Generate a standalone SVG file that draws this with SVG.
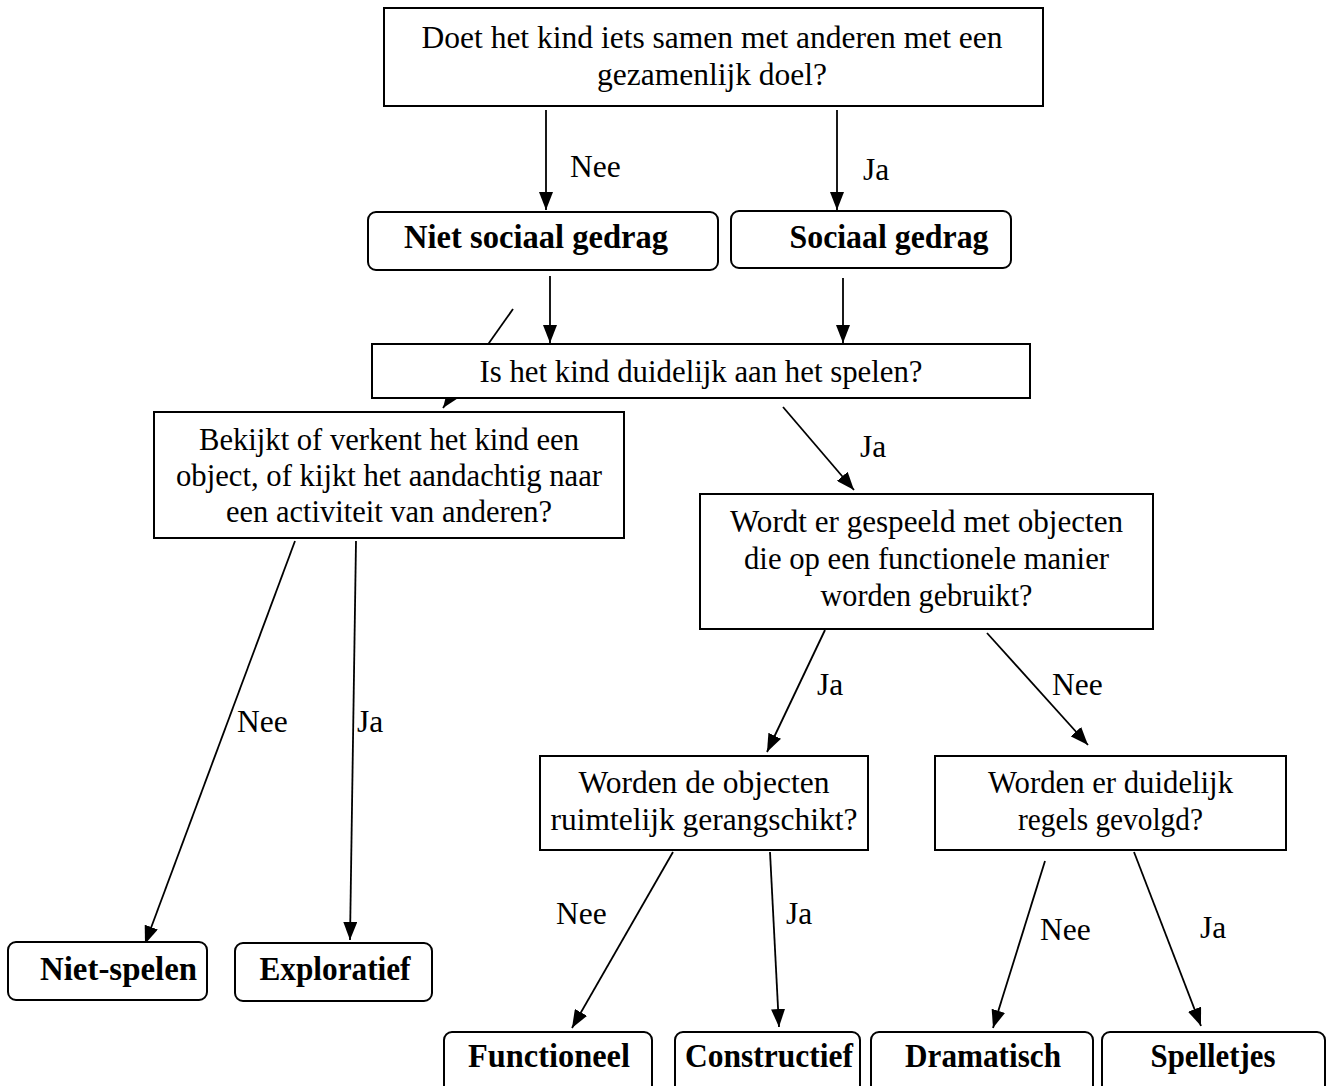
<svg xmlns="http://www.w3.org/2000/svg" width="1329" height="1086" viewBox="0 0 1329 1086">
<defs>
<marker id="ah" markerUnits="userSpaceOnUse" markerWidth="18" markerHeight="14" refX="18" refY="7" orient="auto">
<path d="M0,0 L18,7 L0,14 z" fill="#000"/>
</marker>
<style>
.box{fill:#fff;stroke:#000;stroke-width:2}
.t{font-family:"Liberation Serif","Times New Roman",serif;font-size:31.5px;fill:#000;text-anchor:middle}
.b{font-family:"Liberation Serif","Times New Roman",serif;font-size:33px;font-weight:bold;fill:#000;text-anchor:middle}
.lbl{font-family:"Liberation Serif","Times New Roman",serif;font-size:31.5px;fill:#000}
.c{stroke:#000;stroke-width:1.8;fill:none;marker-end:url(#ah)}
</style>
</defs>
<rect width="1329" height="1086" fill="#fff"/>
<g id="connectors">
<line class="c" x1="546" y1="110" x2="546" y2="210"/>
<line class="c" x1="837" y1="110" x2="837" y2="210"/>
<line class="c" x1="550" y1="276" x2="550" y2="343"/>
<line class="c" x1="843" y1="278" x2="843" y2="343"/>
<line class="c" x1="513" y1="309" x2="443" y2="408"/>
<line class="c" x1="783" y1="407" x2="854" y2="490"/>
<line class="c" x1="295" y1="541" x2="145" y2="944"/>
<line class="c" x1="356" y1="541" x2="350" y2="940"/>
<line class="c" x1="825" y1="630" x2="767" y2="752"/>
<line class="c" x1="987" y1="633" x2="1088" y2="745"/>
<line class="c" x1="673" y1="852" x2="572" y2="1028"/>
<line class="c" x1="770" y1="852" x2="779" y2="1027"/>
<line class="c" x1="1045" y1="861" x2="993" y2="1028"/>
<line class="c" x1="1134" y1="852" x2="1201" y2="1026"/>
<text class="lbl" x="570" y="177">Nee</text>
<text class="lbl" x="863" y="180">Ja</text>
<text class="lbl" x="860" y="457">Ja</text>
<text class="lbl" x="237" y="732">Nee</text>
<text class="lbl" x="357" y="732">Ja</text>
<text class="lbl" x="817" y="695">Ja</text>
<text class="lbl" x="1052" y="695">Nee</text>
<text class="lbl" x="556" y="924">Nee</text>
<text class="lbl" x="786" y="924">Ja</text>
<text class="lbl" x="1040" y="940">Nee</text>
<text class="lbl" x="1200" y="938">Ja</text>
</g>
<g id="n-samen">
<rect class="box" x="384" y="8" width="659" height="98"/>
<text class="t" x="712" y="48" textLength="581" lengthAdjust="spacingAndGlyphs">Doet het kind iets samen met anderen met een</text>
<text class="t" x="712" y="85">gezamenlijk doel?</text>
</g>
<g id="n-nietsociaal">
<rect class="box" x="368" y="212" width="350" height="58" rx="8"/>
<text class="b" x="536" y="248" textLength="264" lengthAdjust="spacingAndGlyphs">Niet sociaal gedrag</text>
</g>
<g id="n-sociaal">
<rect class="box" x="731" y="211" width="280" height="57" rx="8"/>
<text class="b" x="889" y="248" textLength="199" lengthAdjust="spacingAndGlyphs">Sociaal gedrag</text>
</g>
<g id="n-spelen">
<rect class="box" x="372" y="344" width="658" height="54"/>
<text class="t" x="701" y="382" textLength="443" lengthAdjust="spacingAndGlyphs">Is het kind duidelijk aan het spelen?</text>
</g>
<g id="n-bekijkt">
<rect class="box" x="154" y="412" width="470" height="126"/>
<text class="t" x="389" y="450" textLength="380" lengthAdjust="spacingAndGlyphs">Bekijkt of verkent het kind een</text>
<text class="t" x="389" y="486" textLength="426" lengthAdjust="spacingAndGlyphs">object, of kijkt het aandachtig naar</text>
<text class="t" x="389" y="522" textLength="326" lengthAdjust="spacingAndGlyphs">een activiteit van anderen?</text>
</g>
<g id="n-wordt">
<rect class="box" x="700" y="494" width="453" height="135"/>
<text class="t" x="926.5" y="532" textLength="393" lengthAdjust="spacingAndGlyphs">Wordt er gespeeld met objecten</text>
<text class="t" x="926.5" y="569" textLength="365" lengthAdjust="spacingAndGlyphs">die op een functionele manier</text>
<text class="t" x="926.5" y="606" textLength="212" lengthAdjust="spacingAndGlyphs">worden gebruikt?</text>
</g>
<g id="n-ruimtelijk">
<rect class="box" x="540" y="756" width="328" height="94"/>
<text class="t" x="704" y="793">Worden de objecten</text>
<text class="t" x="704" y="830">ruimtelijk gerangschikt?</text>
</g>
<g id="n-regels">
<rect class="box" x="935" y="756" width="351" height="94"/>
<text class="t" x="1110.5" y="793" textLength="245" lengthAdjust="spacingAndGlyphs">Worden er duidelijk</text>
<text class="t" x="1110.5" y="830" textLength="185" lengthAdjust="spacingAndGlyphs">regels gevolgd?</text>
</g>
<g id="n-nietspelen">
<rect class="box" x="8" y="942" width="199" height="58" rx="8"/>
<text class="b" x="118.5" y="980" textLength="157" lengthAdjust="spacingAndGlyphs">Niet-spelen</text>
</g>
<g id="n-exploratief">
<rect class="box" x="235" y="943" width="197" height="58" rx="8"/>
<text class="b" x="335" y="980" textLength="151" lengthAdjust="spacingAndGlyphs">Exploratief</text>
</g>
<g id="n-functioneel">
<rect class="box" x="444" y="1032" width="208" height="70" rx="8"/>
<text class="b" x="549" y="1067" textLength="162" lengthAdjust="spacingAndGlyphs">Functioneel</text>
</g>
<g id="n-constructief">
<rect class="box" x="675" y="1032" width="185" height="70" rx="8"/>
<text class="b" x="769" y="1067" textLength="168" lengthAdjust="spacingAndGlyphs">Constructief</text>
</g>
<g id="n-dramatisch">
<rect class="box" x="871" y="1032" width="222" height="70" rx="8"/>
<text class="b" x="983" y="1067" textLength="156" lengthAdjust="spacingAndGlyphs">Dramatisch</text>
</g>
<g id="n-spelletjes">
<rect class="box" x="1102" y="1032" width="223" height="70" rx="8"/>
<text class="b" x="1213" y="1067" textLength="125" lengthAdjust="spacingAndGlyphs">Spelletjes</text>
</g>
</svg>
